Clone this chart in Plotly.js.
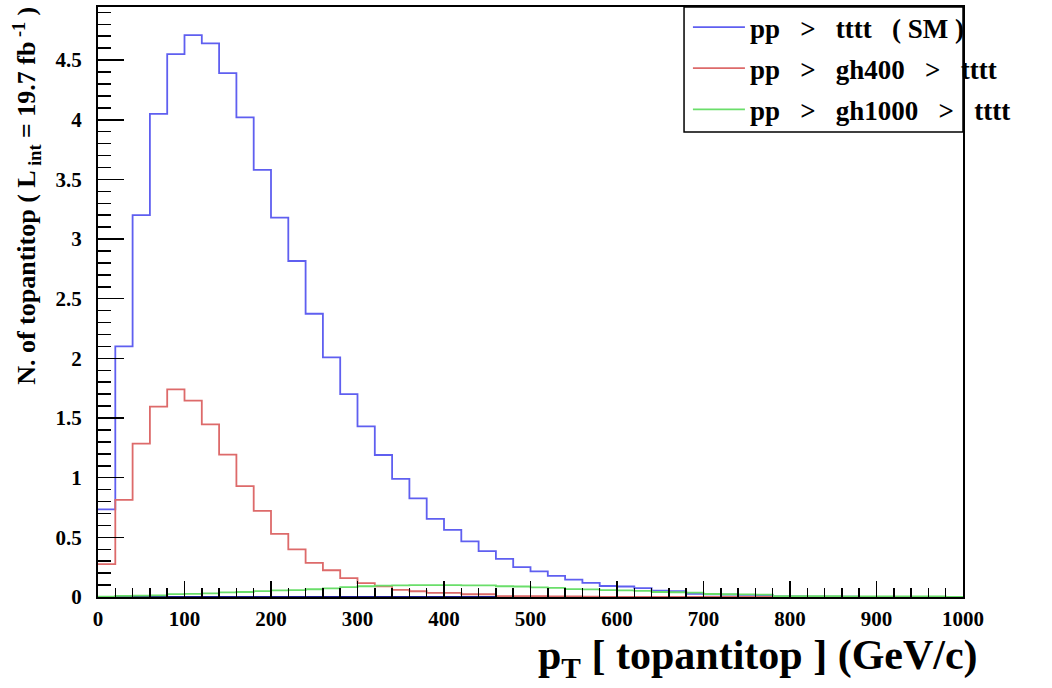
<!DOCTYPE html>
<html>
<head>
<meta charset="utf-8">
<script src="https://cdn.plot.ly/plotly-3.0.1.min.js"></script>
<style>html,body{margin:0;padding:0;background:#fff;}</style>
</head>
<body>
<div id="chart" style="width:1052px;height:688px;"></div>
<script>
// Histogram binning: 50 bins of width 20 GeV/c from 0 to 1000
const binWidth = 20;
const nBins = 50;

// pp > tttt (SM)
const smValues = [
  0.735, 2.10, 3.20, 4.05, 4.55, 4.71, 4.64, 4.39, 4.02, 3.58,
  3.18, 2.816, 2.374, 2.008, 1.70, 1.43, 1.19, 0.99, 0.827, 0.655,
  0.563, 0.467, 0.384, 0.32, 0.25, 0.214, 0.177, 0.146, 0.118, 0.092,
  0.088, 0.074, 0.054, 0.05, 0.027, 0.022, 0.02, 0.018, 0.016, 0.006,
  0.004, 0.003, 0.002, 0.002, 0.001, 0.001, 0.001, 0.0, 0.0, 0.0
];
// pp > gh400 > tttt
const gh400Values = [
  0.275, 0.814, 1.285, 1.595, 1.74, 1.646, 1.447, 1.193, 0.93, 0.722,
  0.529, 0.40, 0.286, 0.224, 0.158, 0.116, 0.09, 0.06, 0.048, 0.035,
  0.035, 0.023, 0.023, 0.008, 0.007, 0.007, 0.006, 0.006, 0.002, 0.001,
  0.001, 0.0, 0.0, 0.0, 0.0, 0.0, 0.0, 0.0, 0.0, 0.0,
  0.0, 0.0, 0.0, 0.0, 0.0, 0.0, 0.0, 0.0, 0.0, 0.0
];
// pp > gh1000 > tttt
const gh1000Values = [
  0.002, 0.01, 0.012, 0.014, 0.024, 0.027, 0.03, 0.038, 0.042, 0.05,
  0.055, 0.058, 0.065, 0.072, 0.082, 0.09, 0.096, 0.098, 0.099, 0.1,
  0.099, 0.098, 0.097, 0.09, 0.088, 0.08, 0.077, 0.066, 0.064, 0.058,
  0.056, 0.052, 0.042, 0.04, 0.037, 0.025, 0.023, 0.022, 0.02, 0.008,
  0.008, 0.007, 0.007, 0.006, 0.006, 0.005, 0.005, 0.004, 0.004, 0.0
];
// empty reference histogram drawn along zero
const baselineValues = [
  0, 0, 0, 0, 0, 0, 0, 0, 0, 0,
  0, 0, 0, 0, 0, 0, 0, 0, 0, 0,
  0, 0, 0, 0, 0, 0, 0, 0, 0, 0,
  0, 0, 0, 0, 0, 0, 0, 0, 0, 0,
  0, 0, 0, 0, 0, 0, 0, 0, 0, 0
];

const sp = "\u00a0\u00a0\u00a0";
const seriesNames = [
  "pp" + sp + ">" + sp + "tttt" + sp + "(\u00a0SM\u00a0)",
  "pp" + sp + ">" + sp + "gh400" + sp + ">" + sp + "tttt",
  "pp" + sp + ">" + sp + "gh1000" + sp + ">" + sp + "tttt"
];
const seriesColors = ["#5f5ff0", "#dd6a6a", "#6ade6a"];

// bin edges (low edges plus final upper edge)
const binEdges = [];
for (let i = 0; i <= nBins; i++) binEdges.push(i * binWidth);

function stepY(vals) { return vals.concat([vals[vals.length - 1]]); }

const serif = "Liberation Serif, Times New Roman, serif";

function histTrace(vals, name, color, idx, show) {
  return {
    type: "scatter", mode: "lines",
    x: binEdges, y: stepY(vals),
    line: {shape: "hv", color: color, width: 1.8},
    name: name, showlegend: show,
    legendgroup: "g" + idx,
    hoverinfo: "x+y"
  };
}

const traces = [
  histTrace(baselineValues, "baseline", "#1c1c8c", 9, false),
  histTrace(smValues, seriesNames[0], seriesColors[0], 0, true),
  histTrace(gh400Values, seriesNames[1], seriesColors[1], 1, true),
  histTrace(gh1000Values, seriesNames[2], seriesColors[2], 2, true)
];

const layout = {
  width: 1052, height: 688,
  margin: {l: 98, r: 89, t: 7, b: 91, pad: 0, autoexpand: false},
  paper_bgcolor: "#ffffff", plot_bgcolor: "#ffffff",
  showlegend: true,
  font: {family: serif, color: "#000"},
  xaxis: {
    range: [0, 1000], dtick: 100, tick0: 0,
    showgrid: false, zeroline: false,
    showline: true, linecolor: "#000", linewidth: 2, mirror: true,
    ticks: "inside", ticklen: 16, tickwidth: 1.5, tickcolor: "#000",
    minor: {dtick: 20, ticks: "inside", ticklen: 9, tickwidth: 1.5, tickcolor: "#000", showgrid: false},
    tickfont: {family: serif, size: 21, weight: "bold", color: "#000"},
    ticklabelstandoff: 2
  },
  yaxis: {
    range: [0, 4.945], dtick: 0.5, tick0: 0,
    showgrid: false, zeroline: false,
    showline: true, linecolor: "#000", linewidth: 2, mirror: true,
    ticks: "inside", ticklen: 26, tickwidth: 1.5, tickcolor: "#000",
    minor: {dtick: 0.1, ticks: "inside", ticklen: 13, tickwidth: 1.5, tickcolor: "#000", showgrid: false},
    tickfont: {family: serif, size: 21, weight: "bold", color: "#000"},
    ticklabelstandoff: 10
  },
  legend: {
    x: 0.682, xanchor: "left", xref: "paper",
    y: 0.9956, yanchor: "top", yref: "container",
    bgcolor: "rgba(0,0,0,0)", borderwidth: 0,
    traceorder: "grouped", tracegroupgap: 3,
    itemwidth: 52,
    font: {family: serif, size: 27, weight: "bold", color: "#000"}
  },
  shapes: [{
    type: "rect", xref: "paper", yref: "paper",
    x0: 0.6775, x1: 1.0, y0: 0.788, y1: 1.0,
    line: {color: "#000", width: 1.5}, fillcolor: "rgba(0,0,0,0)", layer: "above"
  }],
  annotations: [
    {
      text: "N. of topantitop ( L<sub> int</sub> = 19.7 fb<sup> -1</sup> )",
      xref: "paper", yref: "paper", x: -0.083, y: 1.004,
      xanchor: "center", yanchor: "top", textangle: -90, showarrow: false,
      font: {family: serif, size: 26, weight: "bold", color: "#000"}
    },
    {
      text: "p<sub>T</sub> [ topantitop ] (GeV/c)",
      xref: "paper", yref: "paper", x: 1.02, y: -0.056,
      xanchor: "right", yanchor: "top", showarrow: false,
      font: {family: serif, size: 42, weight: "bold", color: "#000"}
    }
  ]
};

Plotly.newPlot("chart", traces, layout, {displayModeBar: false, staticPlot: true});
</script>
</body>
</html>
